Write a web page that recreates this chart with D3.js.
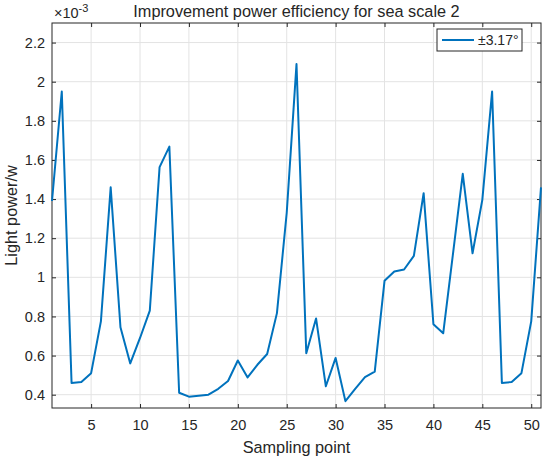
<!DOCTYPE html>
<html>
<head>
<meta charset="utf-8">
<script src="https://cdn.jsdelivr.net/npm/d3@7"></script>
<style>
  body { margin: 0; background: #fff; }
  text { font-family: "Liberation Sans", Arial, sans-serif; fill: #262626; }
</style>
</head>
<body>
<div id="chart"></div>
<script>
// sampling points 1..51, light power in units of 1e-3 W
const samplePoints = d3.range(1, 52);
const lightPower = [
  1.39, 1.95, 0.46, 0.465, 0.51, 0.775, 1.46, 0.745, 0.56, 0.69,
  0.83, 1.563, 1.668, 0.41, 0.39, 0.395, 0.40, 0.43, 0.47, 0.575,
  0.488, 0.553, 0.608, 0.817, 1.33, 2.09, 0.612, 0.79, 0.443, 0.588,
  0.367, 0.43, 0.49, 0.518, 0.982, 1.03, 1.04, 1.11, 1.43, 0.76,
  0.714, 1.12, 1.529, 1.123, 1.396, 1.95, 0.46, 0.465, 0.51, 0.775,
  1.46
];
const xTicks = [5, 10, 15, 20, 25, 30, 35, 40, 45, 50];
const yTicks = [0.4, 0.6, 0.8, 1, 1.2, 1.4, 1.6, 1.8, 2, 2.2];
const legendLabel = "±3.17°";

const W = 550, H = 462;
const margin = { top: 23, right: 9, bottom: 54, left: 52 };
const width = W - margin.left - margin.right,
      height = H - margin.top - margin.bottom;

const svg = d3.select("#chart").append("svg")
    .attr("width", W)
    .attr("height", H);

const g = svg.append("g")
    .attr("transform", `translate(${margin.left},${margin.top})`);

const x = d3.scaleLinear().domain([1, 51]).range([0, width]);
const y = d3.scaleLinear().domain([0.332, 2.3]).range([height, 0]);

// grid
g.append("g").selectAll("line").data(xTicks).join("line")
    .attr("x1", d => x(d)).attr("x2", d => x(d))
    .attr("y1", 0).attr("y2", height)
    .attr("stroke", "#e3e3e3").attr("stroke-width", 1);
g.append("g").selectAll("line").data(yTicks).join("line")
    .attr("y1", d => y(d)).attr("y2", d => y(d))
    .attr("x1", 0).attr("x2", width)
    .attr("stroke", "#e3e3e3").attr("stroke-width", 1);

// axes (ticks inward)
const axisStyle = sel => {
  sel.select(".domain").remove();
  sel.selectAll(".tick line").attr("stroke", "#262626");
  sel.selectAll(".tick text").style("font-size", "14.5px").attr("fill", "#262626");
};

g.append("g")
    .attr("transform", `translate(0,${height})`)
    .call(d3.axisBottom(x).tickValues(xTicks).tickSizeInner(-4).tickSizeOuter(0).tickPadding(12))
    .call(axisStyle);
g.append("g")
    .call(d3.axisTop(x).tickValues(xTicks).tickSizeInner(-4).tickSizeOuter(0).tickFormat(""))
    .call(axisStyle);
g.append("g")
    .call(d3.axisLeft(y).tickValues(yTicks).tickSizeInner(-4).tickSizeOuter(0).tickPadding(7).tickFormat(d3.format("~g")))
    .call(axisStyle);
g.append("g")
    .attr("transform", `translate(${width},0)`)
    .call(d3.axisRight(y).tickValues(yTicks).tickSizeInner(-4).tickSizeOuter(0).tickFormat(""))
    .call(axisStyle);

// box
g.append("rect")
    .attr("width", width).attr("height", height)
    .attr("fill", "none").attr("stroke", "#262626").attr("stroke-width", 1);

// data line
const line = d3.line()
    .x((d, i) => x(samplePoints[i]))
    .y(d => y(d));

g.append("path")
    .datum(lightPower)
    .attr("fill", "none")
    .attr("stroke", "#0072BD")
    .attr("stroke-width", 2)
    .attr("stroke-linejoin", "round")
    .attr("d", line);

// exponent label
const expo = svg.append("text")
    .attr("x", margin.left + 2).attr("y", 18)
    .style("font-size", "14.5px");
expo.append("tspan").text("×10");
expo.append("tspan").attr("dy", -6).style("font-size", "11px").text("-3");

// title
svg.append("text")
    .attr("x", margin.left + width / 2).attr("y", 17)
    .attr("text-anchor", "middle")
    .style("font-size", "16.3px")
    .text("Improvement power efficiency for sea scale 2");

// axis labels
svg.append("text")
    .attr("x", margin.left + width / 2).attr("y", 453)
    .attr("text-anchor", "middle")
    .style("font-size", "16.3px")
    .text("Sampling point");
svg.append("text")
    .attr("transform", `translate(17,${margin.top + height / 2}) rotate(-90)`)
    .attr("text-anchor", "middle")
    .style("font-size", "16.3px")
    .text("Light power/w");

// legend
const lg = svg.append("g").attr("transform", "translate(437,29)");
lg.append("rect")
    .attr("width", 85).attr("height", 22)
    .attr("fill", "#fff").attr("stroke", "#262626").attr("stroke-width", 1);
lg.append("line")
    .attr("x1", 5).attr("x2", 37).attr("y1", 11).attr("y2", 11)
    .attr("stroke", "#0072BD").attr("stroke-width", 2);
lg.append("text")
    .attr("x", 41).attr("y", 16)
    .style("font-size", "14px")
    .text(legendLabel);
</script>
</body>
</html>
